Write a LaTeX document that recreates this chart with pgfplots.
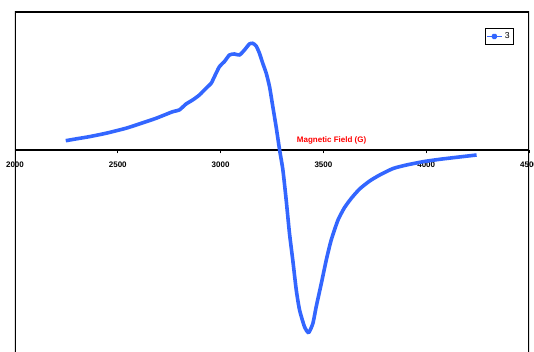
\documentclass[border=0pt]{standalone}
\usepackage{pgfplots}
\pgfplotsset{compat=1.18}
\usepackage{fontspec}
\setmainfont{Liberation Sans}
\definecolor{epr}{RGB}{51,102,255}
\begin{document}
\begin{tikzpicture}
\begin{axis}[
  at={(0,0)}, anchor=south west, scale only axis,
  width=385.5pt, height=264.75pt,
  xmin=2000, xmax=4500, ymin=-215, ymax=138,
  axis x line=middle, axis y line=none,
  x axis line style={-, line width=0.8pt},
  xtick={2000,2500,3000,3500,4000,4500},
  tick align=outside, major tick length=2.5pt,
  xtick style={black, line width=0.5pt},
  /pgf/number format/assume math mode=true,
  /pgf/number format/set thousands separator={},
  xticklabel style={font=\fontsize{6}{7}\selectfont\bfseries, yshift=-3pt},
  legend style={at={(rel axis cs:0.9708,0.9547)}, anchor=north east,
    font=\fontsize{6.5}{7}\selectfont, draw=black, line width=0.6pt,
    inner sep=1pt, row sep=0pt},
  legend image code/.code={\draw[epr, line width=0.6pt] (0pt,0pt) -- (11pt,0pt); \fill[epr] (5.5pt,0pt) circle (1pt);},
]
\addplot[epr, line width=2.7pt, line join=round, smooth, tension=0.35] coordinates {
(2247,9.3) (2300,11.2) (2361,13.3) (2442,16.7) (2539,21.7) (2604,26) (2686,31.7)
(2767,38.3) (2799,40) (2832,46) (2864,50) (2897,55) (2929,61.7) (2954,66.7)
(2970,73.3) (2994,83.3) (3018,88.3) (3043,95) (3067,96) (3092,95) (3116,100)
(3140,106) (3156,106.7) (3173,104) (3189,96.7) (3205,86.7) (3222,76.7)
(3238,63.3) (3254,43.3) (3270,23.3) (3287,0) (3303,-20) (3319,-50)
(3335,-83.3) (3351,-110) (3368,-140) (3384,-160) (3408,-176.7) (3428,-182.7)
(3449,-173.3) (3465,-156.7) (3490,-133.3) (3514,-110) (3538,-90) (3571,-70)
(3603,-57.5) (3637,-48) (3676,-39) (3725,-31) (3774,-25) (3839,-18.5) (3904,-15)
(3985,-11.7) (4066,-9.3) (4148,-7.3) (4245,-5)
};
\addlegendentry{3}
\node[text=red, font=\fontsize{6}{7}\selectfont\bfseries] at (axis cs:3540,10) {Magnetic Field (G)};
\draw[black, line width=1.5pt] (rel axis cs:0,0) -- (rel axis cs:0,1) -- (rel axis cs:1,1) -- (rel axis cs:1,0);
\end{axis}
\pgfresetboundingbox
\path (-11.25pt,9.75pt) rectangle (389.25pt,273.75pt);
\end{tikzpicture}
\end{document}
